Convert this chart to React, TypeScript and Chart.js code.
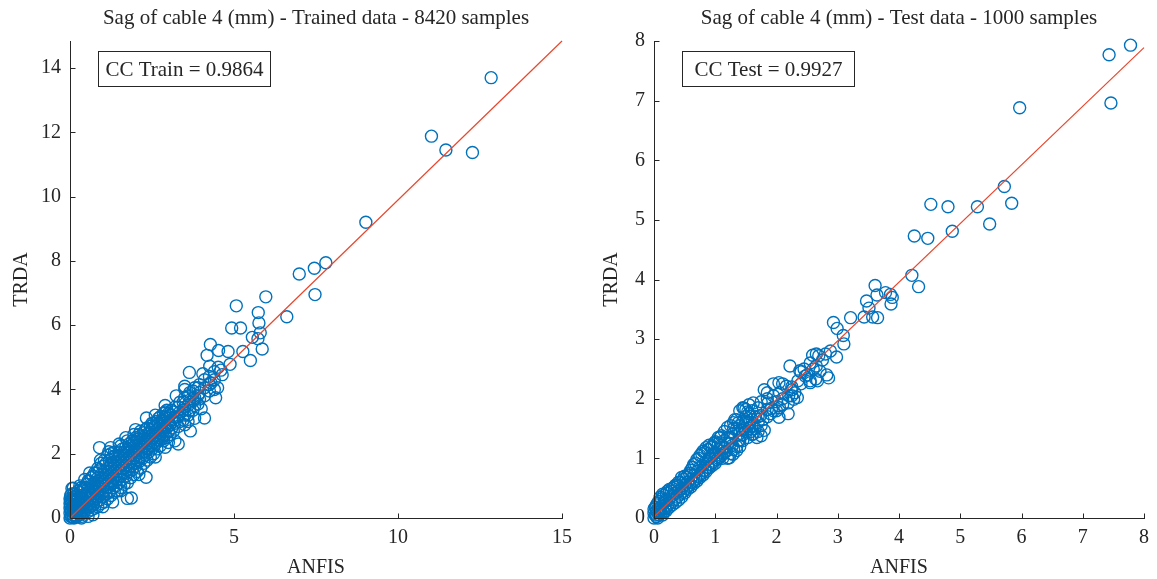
import React, { useEffect, useRef } from "react";
import { Chart, registerables } from "chart.js";
Chart.register(...registerables);

// ---------- DATA ----------
const trainTitle = "Sag of cable 4 (mm) - Trained data - 8420 samples";
const testTitle = "Sag of cable 4 (mm) - Test data - 1000 samples";
const trainCCLabel = "CC Train = 0.9864";
const testCCLabel = "CC Test = 0.9927";
const xAxisLabel = "ANFIS";
const yAxisLabel = "TRDA";

const trainXTicks = [0, 5, 10, 15];
const trainYTicks = [0, 2, 4, 6, 8, 10, 12, 14];
const testXTicks = [0, 1, 2, 3, 4, 5, 6, 7, 8];
const testYTicks = [0, 1, 2, 3, 4, 5, 6, 7, 8];

const trainFitLine = [[0, 0], [15, 14.84]];
const testFitLine = [[0, 0.02], [8, 7.89]];

const trainCore = [
  [0, 0], [0, 0.15], [0, 0.3], [0, 0.45], [0, 0.6],
  [0.05, 0.05], [0.05, 0.25], [0.05, 0.5], [0.05, 0.75],
  [0.1, 0.02], [0.1, 0.2], [0.1, 0.4], [0.1, 0.65],
  [0.15, 0.1], [0.15, 0.35], [0.15, 0.55],
  [0.2, 0.05], [0.2, 0.25], [0.2, 0.45], [0.2, 0.7],
  [0.3, 0.1], [0.3, 0.3], [0.3, 0.5], [0.3, 0.8],
  [0.4, 0.15], [0.4, 0.4], [0.4, 0.6], [0.4, 0.9],
  [0.5, 0.3], [0.5, 0.5], [0.5, 0.75], [0.5, 1.05],
  [0.6, 0.35], [0.6, 0.6], [0.6, 0.85], [0.6, 1.15],
  [0.7, 0.4], [0.7, 0.7], [0.7, 0.95], [0.7, 1.3],
  [0.8, 0.5], [0.8, 0.8], [0.8, 1.05], [0.8, 1.4],
  [0.9, 0.55], [0.9, 0.9], [0.9, 1.15], [0.9, 1.5],
  [1.0, 0.65], [1.0, 1.0], [1.0, 1.25], [1.0, 1.6],
  [1.1, 0.75], [1.1, 1.05], [1.1, 1.35], [1.1, 1.7],
  [1.2, 0.8], [1.2, 1.15], [1.2, 1.45], [1.2, 1.8],
  [1.3, 0.95], [1.3, 1.25], [1.3, 1.55], [1.3, 1.9],
  [1.4, 1.0], [1.4, 1.35], [1.4, 1.65], [1.4, 1.95],
  [1.5, 1.1], [1.5, 1.45], [1.5, 1.75], [1.5, 2.05],
  [1.6, 1.2], [1.6, 1.55], [1.6, 1.85], [1.6, 2.15],
  [1.7, 1.3], [1.7, 1.65], [1.7, 1.95], [1.7, 2.2],
  [1.8, 1.45], [1.8, 1.75], [1.8, 2.05], [1.8, 2.3],
  [1.9, 1.5], [1.9, 1.85], [1.9, 2.15], [1.9, 2.4],
  [2.0, 1.6], [2.0, 1.95], [2.0, 2.25], [2.0, 2.5],
  [2.1, 1.75], [2.1, 2.05], [2.1, 2.35], [2.1, 2.6],
  [2.2, 1.85], [2.2, 2.15], [2.2, 2.45],
  [2.3, 1.95], [2.3, 2.25], [2.3, 2.55], [2.3, 2.75],
  [2.4, 2.05], [2.4, 2.35], [2.4, 2.65],
  [2.5, 2.15], [2.5, 2.45], [2.5, 2.75], [2.5, 2.95],
  [2.6, 2.3], [2.6, 2.55], [2.6, 2.85],
  [2.7, 2.4], [2.7, 2.65], [2.7, 2.95], [2.7, 3.1],
  [2.8, 2.45], [2.8, 2.75], [2.8, 3.05],
  [2.9, 2.6], [2.9, 2.85], [2.9, 3.15], [2.9, 3.3],
  [3.0, 2.7], [3.0, 2.95], [3.0, 3.25],
  [3.1, 2.8], [3.1, 3.05], [3.1, 3.35],
  [3.2, 2.95], [3.2, 3.15], [3.2, 3.45],
  [3.35, 3.0], [3.35, 3.3], [3.35, 3.6],
  [3.5, 3.2], [3.5, 3.45], [3.5, 3.75], [3.5, 4.0],
  [3.65, 3.35], [3.65, 3.6], [3.65, 3.9],
  [3.8, 3.5], [3.8, 3.75], [3.8, 4.05],
  [3.95, 3.7], [3.95, 3.9], [3.95, 4.15],
  [4.1, 3.8], [4.1, 4.05], [4.1, 4.3],
  [4.25, 3.95], [4.25, 4.15], [4.25, 4.4],
  [4.4, 4.0], [4.4, 4.3], [4.4, 4.55],
];

const trainFill = [
  [0.02, 0.05], [0.02, 0.25], [0.02, 0.4], [0.02, 0.55], [0.02, 0.7],
  [0.08, 0.1], [0.08, 0.3], [0.08, 0.55], [0.12, 0.0], [0.12, 0.3],
  [0.12, 0.5], [0.12, 0.75], [0.18, 0.02], [0.18, 0.2], [0.18, 0.4], [0.18, 0.6],
  [0.25, 0.15], [0.25, 0.38], [0.25, 0.6], [0.25, 0.85],
  [0.35, 0.05], [0.35, 0.25], [0.35, 0.45], [0.35, 0.7], [0.35, 0.95],
  [0.45, 0.2], [0.45, 0.45], [0.45, 0.68], [0.45, 0.95],
  [0.55, 0.2], [0.55, 0.42], [0.55, 0.65], [0.55, 0.9], [0.55, 1.15],
  [0.65, 0.25], [0.65, 0.5], [0.65, 0.75], [0.65, 1.0], [0.65, 1.25],
  [0.75, 0.3], [0.75, 0.55], [0.75, 0.85], [0.75, 1.1], [0.75, 1.4],
  [0.85, 0.35], [0.85, 0.65], [0.85, 0.95], [0.85, 1.25], [0.85, 1.55],
  [0.95, 0.45], [0.95, 0.75], [0.95, 1.05], [0.95, 1.35], [0.95, 1.7],
  [1.05, 0.5], [1.05, 0.85], [1.05, 1.15], [1.05, 1.45], [1.05, 1.8],
  [1.15, 0.6], [1.15, 0.95], [1.15, 1.25], [1.15, 1.55], [1.15, 1.95],
  [1.25, 0.7], [1.25, 1.05], [1.25, 1.35], [1.25, 1.65], [1.25, 2.0],
  [1.35, 0.8], [1.35, 1.1], [1.35, 1.45], [1.35, 1.75], [1.35, 2.05],
  [1.45, 0.85], [1.45, 1.2], [1.45, 1.55], [1.45, 1.85],
  [1.55, 0.95], [1.55, 1.3], [1.55, 1.65], [1.55, 1.95], [1.55, 2.25],
  [1.65, 1.05], [1.65, 1.4], [1.65, 1.75], [1.65, 2.05],
  [1.75, 1.1], [1.75, 1.5], [1.75, 1.85], [1.75, 2.15], [1.75, 2.4],
  [1.85, 1.25], [1.85, 1.6], [1.85, 1.95], [1.85, 2.25],
  [1.95, 1.35], [1.95, 1.7], [1.95, 2.05], [1.95, 2.35], [1.95, 2.6],
  [2.05, 1.45], [2.05, 1.8], [2.05, 2.15], [2.05, 2.45],
  [2.15, 1.55], [2.15, 1.9], [2.15, 2.25], [2.15, 2.55], [2.15, 2.7],
  [2.25, 1.7], [2.25, 2.05], [2.25, 2.35], [2.25, 2.65],
  [2.35, 1.8], [2.35, 2.15], [2.35, 2.45], [2.35, 2.8],
  [2.45, 1.9], [2.45, 2.25], [2.45, 2.55], [2.45, 2.85],
  [2.55, 2.0], [2.55, 2.35], [2.55, 2.65], [2.55, 2.95],
  [2.65, 2.15], [2.65, 2.45], [2.65, 2.75], [2.65, 3.0],
  [2.75, 2.25], [2.75, 2.55], [2.75, 2.85], [2.75, 3.15],
  [2.85, 2.4], [2.85, 2.7], [2.85, 3.0], [2.85, 3.25],
  [2.95, 2.5], [2.95, 2.8], [2.95, 3.1], [2.95, 3.35],
  [3.05, 2.6], [3.05, 2.9], [3.05, 3.2],
  [3.15, 2.7], [3.15, 3.0], [3.15, 3.3],
  [3.3, 2.85], [3.3, 3.15], [3.3, 3.45],
  [3.45, 3.05], [3.45, 3.35], [3.45, 3.6],
  [3.6, 3.2], [3.6, 3.5], [3.6, 3.8],
  [3.75, 3.35], [3.75, 3.65], [3.75, 3.95],
  [3.9, 3.55], [3.9, 3.8], [3.9, 4.05],
];

const trainOutliers = [
  [12.84, 13.7], [11.02, 11.88], [11.46, 11.45], [12.27, 11.37], [9.02, 9.2],
  [6.99, 7.59], [7.45, 7.77], [7.8, 7.94], [7.47, 6.95], [6.61, 6.26],
  [5.97, 6.88], [5.07, 6.6], [5.74, 6.39], [5.76, 6.07], [5.8, 5.76],
  [5.73, 5.58], [5.86, 5.26], [5.56, 5.62], [4.93, 5.91], [5.2, 5.91],
  [5.27, 5.18], [5.5, 4.9], [4.88, 4.78], [4.82, 5.18], [4.53, 5.21],
  [4.28, 5.4], [4.18, 5.06], [4.26, 4.72], [4.52, 4.69], [4.64, 4.46],
  [3.64, 4.53], [4.05, 4.49], [3.24, 3.8], [4.44, 3.74], [4.1, 3.11],
  [3.67, 2.71], [3.3, 2.3], [2.33, 3.11], [0.9, 2.19], [1.24, 2.19],
  [1.75, 0.61], [2.32, 1.27], [0.06, 0.92], [1.87, 0.62], [1.3, 0.5],
  [1.0, 0.35], [0.7, 0.1], [0.55, 0.05], [0.35, 0.0], [1.55, 0.85],
  [2.1, 1.35], [2.6, 1.9], [2.9, 2.2], [3.0, 2.35], [3.2, 2.4],
  [3.5, 2.9], [3.8, 3.1], [4.0, 3.4], [3.6, 3.0], [0.93, 1.8],
  [1.18, 2.06], [0.6, 1.4], [0.45, 1.2], [0.3, 1.0], [0.1, 0.93],
  [1.5, 2.3], [1.7, 2.5], [2.0, 2.75], [2.6, 3.2], [2.9, 3.5],
  [3.5, 4.1], [4.3, 4.2], [4.5, 4.05], [4.6, 4.6],
];

const testCore = [
  [0, 0], [0, 0.08], [0, 0.15],
  [0.04, 0.02], [0.04, 0.12], [0.04, 0.22],
  [0.08, 0.05], [0.08, 0.15], [0.08, 0.28],
  [0.12, 0.08], [0.12, 0.2], [0.12, 0.32],
  [0.16, 0.1], [0.16, 0.25], [0.16, 0.38],
  [0.2, 0.12], [0.2, 0.28], [0.2, 0.42],
  [0.25, 0.18], [0.25, 0.32], [0.25, 0.48],
  [0.3, 0.22], [0.3, 0.38], [0.3, 0.5],
  [0.35, 0.26], [0.35, 0.42], [0.35, 0.55],
  [0.4, 0.3], [0.4, 0.45], [0.4, 0.6],
  [0.45, 0.35], [0.45, 0.5], [0.45, 0.68],
  [0.5, 0.42], [0.5, 0.55], [0.5, 0.7],
  [0.55, 0.48], [0.55, 0.6], [0.55, 0.72],
  [0.6, 0.52], [0.6, 0.65], [0.6, 0.8],
  [0.65, 0.58], [0.65, 0.72], [0.65, 0.9],
  [0.7, 0.62], [0.7, 0.78], [0.7, 0.98],
  [0.75, 0.68], [0.75, 0.85], [0.75, 1.05],
  [0.8, 0.72], [0.8, 0.88], [0.8, 1.12],
  [0.85, 0.78], [0.85, 0.95], [0.85, 1.18],
  [0.9, 0.84], [0.9, 1.0], [0.9, 1.22],
  [0.95, 0.88], [0.95, 1.05], [0.95, 1.2],
  [1.0, 0.92], [1.0, 1.1], [1.0, 1.28],
  [1.05, 1.0], [1.05, 1.15], [1.05, 1.35],
  [1.1, 1.05], [1.1, 1.22], [1.1, 1.38],
  [1.15, 1.1], [1.15, 1.3], [1.15, 1.45],
  [1.2, 1.0], [1.2, 1.25], [1.2, 1.52],
  [1.25, 1.08], [1.25, 1.35], [1.25, 1.55],
  [1.3, 1.15], [1.3, 1.42], [1.3, 1.6],
  [1.35, 1.2], [1.35, 1.5], [1.35, 1.65],
  [1.4, 1.3], [1.4, 1.55], [1.4, 1.8],
  [1.45, 1.4], [1.45, 1.62], [1.45, 1.85],
  [1.5, 1.45], [1.5, 1.7], [1.5, 1.82],
  [1.55, 1.5], [1.55, 1.75], [1.55, 1.9],
  [1.6, 1.55], [1.6, 1.8],
  [1.7, 1.6], [1.7, 1.85],
  [1.75, 1.55], [1.75, 1.95],
  [1.85, 1.7], [1.85, 2.0], [1.85, 2.1],
  [1.95, 1.8], [1.95, 2.05], [1.95, 2.25],
  [2.05, 1.85], [2.05, 2.1],
  [2.1, 2.0], [2.1, 2.25],
  [2.25, 2.05], [2.25, 2.2],
  [2.4, 2.25], [2.4, 2.45],
  [2.55, 2.3], [2.55, 2.6],
  [2.65, 2.55], [2.65, 2.75],
];

const testFill = [
  [0.02, 0.05], [0.02, 0.18], [0.06, 0.0], [0.06, 0.1], [0.06, 0.25],
  [0.1, 0.12], [0.1, 0.35], [0.14, 0.05], [0.14, 0.15], [0.14, 0.4],
  [0.18, 0.15], [0.18, 0.3], [0.22, 0.2], [0.22, 0.45], [0.28, 0.25],
  [0.28, 0.45], [0.33, 0.3], [0.33, 0.52], [0.38, 0.35], [0.38, 0.55],
  [0.43, 0.4], [0.43, 0.6], [0.48, 0.45], [0.48, 0.65], [0.53, 0.5],
  [0.53, 0.68], [0.58, 0.55], [0.58, 0.75], [0.63, 0.6], [0.63, 0.85],
  [0.68, 0.65], [0.68, 0.92], [0.73, 0.7], [0.73, 1.0], [0.78, 0.75],
  [0.78, 1.08], [0.83, 0.8], [0.83, 1.1], [0.88, 0.85], [0.88, 1.15],
  [0.93, 0.9], [0.93, 1.18], [0.98, 0.95], [0.98, 1.25], [1.03, 0.98],
  [1.08, 1.02], [1.13, 1.08], [1.18, 1.12], [1.28, 1.22], [1.38, 1.3],
  [1.48, 1.5], [1.58, 1.45], [1.65, 1.5], [1.65, 1.7], [1.78, 1.65],
  [1.9, 1.75], [2.0, 1.95], [2.3, 2.1], [2.5, 2.4], [1.38, 1.6], [1.5, 1.6],
  [1.25, 1.25], [1.3, 1.5], [1.4, 1.42], [1.45, 1.3], [1.55, 1.6],
  [1.6, 1.4], [1.6, 1.65], [1.7, 1.45], [1.7, 1.7], [1.75, 1.38],
  [1.15, 1.18], [1.2, 1.35], [1.05, 1.25], [1.12, 1.0], [1.4, 1.2],
  [1.85, 1.82], [2.0, 1.8], [2.1, 1.9], [2.2, 2.05], [2.35, 2.3],
  [2.45, 2.5], [2.6, 2.5], [2.75, 2.65], [2.8, 2.75],
];

const testOutliers = [
  [7.78, 7.93], [7.43, 7.77], [7.46, 6.96], [5.97, 6.88], [5.72, 5.56],
  [5.84, 5.28], [5.28, 5.22], [5.48, 4.93], [4.52, 5.26], [4.8, 5.22],
  [4.25, 4.73], [4.47, 4.69], [4.87, 4.81], [4.21, 4.07], [4.32, 3.88],
  [3.61, 3.9], [3.64, 3.74], [3.78, 3.78], [3.86, 3.75], [3.89, 3.7],
  [3.87, 3.59], [3.47, 3.64], [3.51, 3.52], [3.43, 3.37], [3.57, 3.37],
  [3.65, 3.36], [3.21, 3.36], [2.93, 3.28], [2.99, 3.18], [3.09, 3.06],
  [3.1, 2.92], [2.59, 2.73], [2.69, 2.72], [2.88, 2.8], [2.98, 2.7],
  [2.71, 2.46], [2.82, 2.4], [2.85, 2.35], [2.38, 2.47], [2.22, 2.55],
  [2.47, 2.38], [2.64, 2.33], [2.55, 2.27], [2.67, 2.3], [1.8, 2.15],
  [2.04, 2.27], [2.16, 2.21], [2.25, 2.15], [2.34, 2.02], [2.28, 1.99],
  [2.19, 1.93], [2.04, 1.69], [2.19, 1.75], [1.92, 1.84], [1.86, 1.93],
  [1.62, 1.93], [1.47, 1.84], [1.53, 1.78], [1.74, 1.72], [1.8, 1.47],
  [1.62, 1.41], [1.68, 1.35], [1.53, 1.35], [1.44, 1.47], [1.32, 1.65],
  [1.29, 1.07], [1.23, 1.01], [1.35, 1.13], [1.08, 1.35],
];

// ---------- STYLE ----------
const BLUE = "#0072BD";
const RED = "#E8472E";
const INK = "#262626";
const FONT = '"Liberation Serif", "DejaVu Serif", serif';

type Panel = {
  title: string;
  cc: string;
  xTicks: number[];
  yTicks: number[];
  xMax: number;
  yMax: number;
  fit: number[][];
  points: number[][];
  padLeft: number;
  padRight: number;
  yLabelX: number;
};

function decorPlugin(p: Panel) {
  return {
    id: "decor",
    afterDraw(chart: any) {
      const ctx = chart.ctx as CanvasRenderingContext2D;
      const { left, right, top, bottom } = chart.chartArea;
      const xs = chart.scales.x;
      const ys = chart.scales.y;
      ctx.save();
      ctx.strokeStyle = INK;
      ctx.lineWidth = 1;
      const L = Math.round(left) + 0.5;
      const B = Math.round(bottom) + 0.5;
      ctx.beginPath();
      ctx.moveTo(L, Math.round(top));
      ctx.lineTo(L, B);
      ctx.lineTo(Math.round(right) + 1, B);
      ctx.stroke();
      ctx.beginPath();
      p.xTicks.forEach((v) => {
        const px = Math.round(xs.getPixelForValue(v)) + 0.5;
        ctx.moveTo(px, B);
        ctx.lineTo(px, B - 5);
      });
      p.yTicks.forEach((v) => {
        const py = Math.round(ys.getPixelForValue(v)) + 0.5;
        ctx.moveTo(L, py);
        ctx.lineTo(L + 5, py);
      });
      ctx.stroke();

      ctx.fillStyle = INK;
      ctx.textAlign = "center";
      ctx.textBaseline = "middle";
      const cx = (left + right) / 2;
      ctx.font = `21px ${FONT}`;
      ctx.fillText(p.title, cx, 18);
      ctx.font = `20px ${FONT}`;
      ctx.fillText(xAxisLabel, cx, 568);

      ctx.save();
      ctx.translate(p.yLabelX, (top + bottom) / 2);
      ctx.rotate(-Math.PI / 2);
      ctx.fillText(yAxisLabel, 0, 0);
      ctx.restore();

      // CC box
      const bx = Math.round(left) + 28 + 0.5;
      const by = 51 + 0.5;
      const bw = 172;
      const bh = 35;
      ctx.fillStyle = "#ffffff";
      ctx.fillRect(bx, by, bw, bh);
      ctx.strokeStyle = INK;
      ctx.lineWidth = 1;
      ctx.strokeRect(bx, by, bw, bh);
      ctx.fillStyle = INK;
      ctx.font = `21px ${FONT}`;
      ctx.fillText(p.cc, bx + bw / 2, by + bh / 2 + 1);
      ctx.restore();
    },
  };
}

function makeChart(canvas: HTMLCanvasElement, p: Panel) {
  return new Chart(canvas, {
    type: "scatter",
    data: {
      datasets: [
        {
          type: "line",
          data: p.fit.map(([x, y]) => ({ x, y })),
          borderColor: RED,
          borderWidth: 1.2,
          pointRadius: 0,
          fill: false,
          clip: false,
        } as any,
        {
          type: "scatter",
          data: p.points.map(([x, y]) => ({ x, y })),
          borderColor: BLUE,
          backgroundColor: "rgba(0,0,0,0)",
          borderWidth: 1.4,
          pointRadius: 6,
          clip: false,
        } as any,
      ],
    },
    plugins: [decorPlugin(p)],
    options: {
      animation: false,
      responsive: false,
      devicePixelRatio: 1,
      events: [],
      layout: { padding: { left: 0, right: p.padRight, top: 41, bottom: 0 } },
      plugins: { legend: { display: false }, tooltip: { enabled: false }, title: { display: false } },
      scales: {
        x: {
          type: "linear",
          min: 0,
          max: p.xMax,
          grid: { display: false, drawTicks: false, tickLength: 0 },
          border: { display: false },
          afterBuildTicks: (s: any) => {
            s.ticks = p.xTicks.map((v) => ({ value: v }));
          },
          afterFit: (s: any) => {
            s.height = 61;
          },
          ticks: { color: INK, font: { family: FONT, size: 20 }, padding: 8, maxRotation: 0 },
        },
        y: {
          type: "linear",
          min: 0,
          max: p.yMax,
          grid: { display: false, drawTicks: false, tickLength: 0 },
          border: { display: false },
          afterBuildTicks: (s: any) => {
            s.ticks = p.yTicks.map((v) => ({ value: v }));
          },
          afterFit: (s: any) => {
            s.width = p.padLeft;
          },
          ticks: { color: INK, font: { family: FONT, size: 20 }, padding: 9 },
        },
      },
    } as any,
  });
}

export default function App() {
  const leftRef = useRef<HTMLCanvasElement>(null);
  const rightRef = useRef<HTMLCanvasElement>(null);

  useEffect(() => {
    const c1 = makeChart(leftRef.current!, {
      title: trainTitle,
      cc: trainCCLabel,
      xTicks: trainXTicks,
      yTicks: trainYTicks,
      xMax: 15,
      yMax: 14.84,
      fit: trainFitLine,
      points: [...trainCore, ...trainFill, ...trainOutliers],
      padLeft: 70,
      padRight: 18,
      yLabelX: 22,
    });
    const c2 = makeChart(rightRef.current!, {
      title: testTitle,
      cc: testCCLabel,
      xTicks: testXTicks,
      yTicks: testYTicks,
      xMax: 8,
      yMax: 8,
      fit: testFitLine,
      points: [...testCore, ...testFill, ...testOutliers],
      padLeft: 74,
      padRight: 13,
      yLabelX: 32,
    });
    return () => {
      c1.destroy();
      c2.destroy();
    };
  }, []);

  return (
    <div style={{ position: "fixed", left: 0, top: 0, width: 1157, height: 579, background: "#fff" }}>
      <canvas ref={leftRef} width={580} height={579} style={{ position: "absolute", left: 0, top: 0 }} />
      <canvas ref={rightRef} width={577} height={579} style={{ position: "absolute", left: 580, top: 0 }} />
    </div>
  );
}
